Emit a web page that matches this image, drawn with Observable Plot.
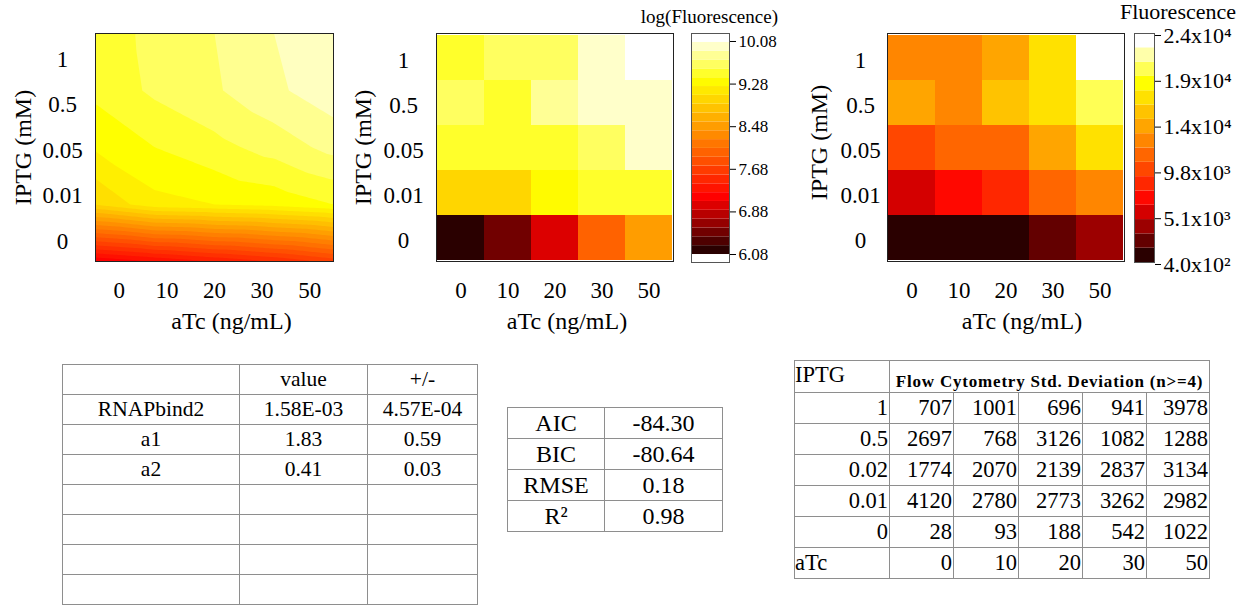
<!DOCTYPE html>
<html><head><meta charset="utf-8">
<script src="https://cdn.jsdelivr.net/npm/d3@7"></script>
<script src="https://cdn.jsdelivr.net/npm/@observablehq/plot@0.6"></script>
<style>
html,body{margin:0;padding:0;background:#fff;}
#root{position:relative;width:1248px;height:605px;overflow:hidden;font-family:"Liberation Serif",serif;color:#000;}
.box{position:absolute;}
.box svg{max-width:none;}
table{position:absolute;border-collapse:collapse;table-layout:fixed;font-family:"Liberation Serif",serif;color:#000;}
td{border:1px solid #8e8e8e;padding:0;white-space:nowrap;line-height:1;}
.ttl{position:absolute;text-align:right;white-space:nowrap;font-family:"Liberation Serif",serif;}
</style></head><body><div id="root"></div>
<script>
// ---------------- data ----------------
const aTcLabels = ["0", "10", "20", "30", "50"];
const iptgLabels = ["1", "0.5", "0.05", "0.01", "0"];

// panel 1: fitted model surface (log fluorescence), rows from IPTG high (top) to low (bottom)
const modelLogFluor = [
  [9.50, 9.65, 9.75, 9.90, 10.00],
  [9.49, 9.63, 9.73, 9.87, 9.99],
  [9.32, 9.45, 9.55, 9.66, 9.80],
  [9.01, 9.25, 9.30, 9.35, 9.45],
  [6.90, 7.05, 7.20, 7.35, 7.55]
];
// panel 2: measured log(Fluorescence)
const logFluor = [
  [9.46, 9.62, 9.62, 9.95, 10.08],
  [9.64, 9.52, 9.78, 9.93, 9.99],
  [9.41, 9.42, 9.52, 9.60, 9.92],
  [8.97, 8.96, 9.30, 9.45, 9.53],
  [6.15, 6.50, 7.00, 7.98, 8.47]
];
// panel 3: measured Fluorescence
const fluor = [
  [13000, 13000, 14400, 17400, 23800],
  [14400, 13000, 15900, 17400, 20300],
  [9900, 11400, 11400, 14400, 17400],
  [5500, 7000, 8500, 11400, 13000],
  [900, 900, 900, 2200, 4000]
];
const logTicks = [6.08, 6.88, 7.68, 8.48, 9.28, 10.08];
const fluorTickLabels = ["4.0x10²", "5.1x10³", "9.8x10³", "1.4x10⁴", "1.9x10⁴", "2.4x10⁴"];

const paramHeader = ["", "value", "+/-"];
const paramNames = ["RNAPbind2", "a1", "a2"];
const paramValues = ["1.58E-03", "1.83", "0.41"];
const paramErrors = ["4.57E-04", "0.59", "0.03"];
const statNames = ["AIC", "BIC", "RMSE", "R²"];
const statValues = ["-84.30", "-80.64", "0.18", "0.98"];
const sdTitle = "Flow Cytometry Std. Deviation (n>=4)";
const sdIptg = ["1", "0.5", "0.02", "0.01", "0"];
const sdATc = ["0", "10", "20", "30", "50"];
const sdValues = [
  [707, 1001, 696, 941, 3978],
  [2697, 768, 3126, 1082, 1288],
  [1774, 2070, 2139, 2837, 3134],
  [4120, 2780, 2773, 3262, 2982],
  [28, 93, 188, 542, 1022]
];

// ---------------- styling helpers ----------------
const root = document.getElementById("root");
function place(node, left, top) {
  const d = document.createElement("div");
  d.className = "box"; d.style.left = left + "px"; d.style.top = top + "px";
  d.appendChild(node); root.appendChild(d); return d;
}
const baseStyle = {fontFamily: "Liberation Serif", fontSize: "23px", background: "none", color: "#000", overflow: "visible"};
const hot = d3.scaleLinear().domain([0, 0.25, 0.6, 0.8, 1])
  .range(["#2a0000", "#ff0000", "#ffa500", "#ffff00", "#ffffff"]).clamp(true);

function axisTitles(dxX, dxY, dyY) {
  return [
    Plot.text(["aTc (ng/mL)"], {text: d => d, frameAnchor: "bottom", textAnchor: "middle", lineAnchor: "middle", dy: 60, dx: dxX, fontSize: 24}),
    Plot.text(["IPTG (mM)"], {text: d => d, frameAnchor: "left", textAnchor: "middle", lineAnchor: "middle", dx: dxY, dy: dyY, rotate: -90, fontSize: 24})
  ];
}
const nC = aTcLabels.length, nR = iptgLabels.length;

// ---------------- panel 1: contour ----------------
const samples = modelLogFluor.flatMap((row, i) => row.map((v, j) => ({
  x: j / (row.length - 1), y: 1 - i / (modelLogFluor.length - 1), v
})));
const xTicks = aTcLabels.map((_, k) => (k + 0.5) / nC);
const yTicks = iptgLabels.map((_, k) => 1 - (k + 0.5) / nR);
const p1 = Plot.plot({
  width: 350, height: 340, marginLeft: 95, marginRight: 17, marginTop: 33, marginBottom: 79,
  style: baseStyle,
  x: {domain: [0, 1]}, y: {domain: [0, 1]},
  color: {type: "linear", domain: [6.9, 9.3, 10.0], range: ["#ff0000", "#ffff00", "#ffffe0"], clamp: true},
  marks: [
    Plot.contour(samples, {x: "x", y: "y", fill: "v", x1: 0, y1: 0, x2: 1, y2: 1,
      interpolate: "barycentric", thresholds: d3.range(6.75, 10.05, 0.15), stroke: "none"}),
    Plot.frame({stroke: "#222"}),
    Plot.axisX({ticks: xTicks, tickFormat: d => aTcLabels[Math.round(d * nC - 0.5)], tickSize: 0, tickPadding: 20, fontSize: 23, label: null}),
    Plot.axisY({ticks: yTicks, tickFormat: d => iptgLabels[Math.round((1 - d) * nR - 0.5)], tickSize: 0, tickPadding: 33, textAnchor: "middle", dy: 3, fontSize: 23, label: null}),
    ...axisTitles(17, -72, 0)
  ]
});
place(p1, 0, 0);

// ---------------- panel 2: log heatmap ----------------
const thr2 = d3.range(26).map(i => 6.08 + i * 0.166);
const color2 = {type: "threshold", domain: thr2, range: ["#ffffff", ...d3.range(25).map(i => hot(i / 24)), "#ffffff"]};
const cells2 = logFluor.flatMap((row, i) => row.map((v, j) => ({aTc: aTcLabels[j], iptg: iptgLabels[i], v})));
const p2 = Plot.plot({
  width: 345, height: 340, marginLeft: 96, marginRight: 12, marginTop: 33, marginBottom: 79,
  style: baseStyle,
  x: {type: "band", domain: aTcLabels, padding: 0}, y: {type: "band", domain: iptgLabels, padding: 0},
  color: color2,
  marks: [
    Plot.cell(cells2, {x: "aTc", y: "iptg", fill: "v", inset: 0}),
    Plot.frame({stroke: "#222"}),
    Plot.axisX({tickSize: 0, tickPadding: 20, fontSize: 23, label: null}),
    Plot.axisY({tickSize: 0, tickPadding: 33, textAnchor: "middle", dy: 3, fontSize: 23, label: null}),
    ...axisTitles(12, -73, 0)
  ]
});
place(p2, 340, 0);

const leg2Bands = [{lo: 5.93, hi: thr2[0]}, ...d3.range(25).map(i => ({lo: thr2[i], hi: thr2[i + 1]}))]
  .map(b => ({...b, mid: (b.lo + b.hi) / 2}));
const l2 = Plot.plot({
  width: 110, height: 290, marginLeft: 6, marginRight: 66, marginTop: 33, marginBottom: 28,
  style: baseStyle,
  x: {domain: [0, 1], axis: null}, y: {domain: [5.93, thr2[25]]},
  color: color2,
  marks: [
    Plot.rect(leg2Bands, {x1: 0, x2: 1, y1: "lo", y2: "hi", fill: "mid"}),
    Plot.frame({stroke: "#555"}),
    Plot.axisY({anchor: "right", ticks: logTicks, tickFormat: d3.format(".2f"), tickSize: 6, tickPadding: 3, fontSize: 17, label: null})
  ]
});
place(l2, 685, 0);

// ---------------- panel 3: linear heatmap ----------------
const thr3 = d3.range(17).map(i => 400 + i * 1475);
const color3 = {type: "threshold", domain: thr3, range: [hot(0), ...d3.range(16).map(i => hot(i / 15)), "#ffffff"]};
const cells3 = fluor.flatMap((row, i) => row.map((v, j) => ({aTc: aTcLabels[j], iptg: iptgLabels[i], v})));
const p3 = Plot.plot({
  width: 350, height: 340, marginLeft: 107, marginRight: 6, marginTop: 33, marginBottom: 79,
  style: baseStyle,
  x: {type: "band", domain: aTcLabels, padding: 0}, y: {type: "band", domain: iptgLabels, padding: 0},
  color: color3,
  marks: [
    Plot.cell(cells3, {x: "aTc", y: "iptg", fill: "v", inset: 0}),
    Plot.frame({stroke: "#222"}),
    Plot.axisX({tickSize: 0, tickPadding: 20, fontSize: 23, label: null}),
    Plot.axisY({tickSize: 0, tickPadding: 27, textAnchor: "middle", dy: 3, fontSize: 23, label: null}),
    ...axisTitles(16, -68, -5)
  ]
});
place(p3, 780, 0);

const leg3Bands = d3.range(16).map(i => ({lo: thr3[i], hi: thr3[i + 1], mid: (thr3[i] + thr3[i + 1]) / 2}));
const lo3 = thr3[0], hi3 = thr3[16];
const leg3Ticks = fluorTickLabels.map((_, k) => lo3 + k * (hi3 - lo3) / (fluorTickLabels.length - 1));
const l3 = Plot.plot({
  width: 123, height: 290, marginLeft: 9, marginRight: 94, marginTop: 33, marginBottom: 28,
  style: baseStyle,
  x: {domain: [0, 1], axis: null}, y: {domain: [lo3, hi3]},
  color: color3,
  marks: [
    Plot.rect(leg3Bands, {x1: 0, x2: 1, y1: "lo", y2: "hi", fill: "mid"}),
    Plot.frame({stroke: "#555"}),
    Plot.axisY({anchor: "right", ticks: leg3Ticks,
      tickFormat: d => fluorTickLabels[Math.round((d - lo3) / (hi3 - lo3) * (fluorTickLabels.length - 1))],
      tickSize: 6, tickPadding: 3, dy: 2, fontSize: 22, label: null})
  ]
});
place(l3, 1125, 0);

// legend titles
function title(text, right, centerY, size) {
  const d = document.createElement("div");
  d.className = "ttl"; d.textContent = text;
  d.style.left = (right - 300) + "px"; d.style.width = "300px";
  d.style.fontSize = size + "px"; d.style.lineHeight = (size * 1.2) + "px";
  d.style.top = (centerY - size * 0.62) + "px";
  root.appendChild(d);
}
title("log(Fluorescence)", 778, 18, 19);
title("Fluorescence", 1236, 13, 22);

// ---------------- tables ----------------
function makeTable(left, top, widths, rowsHtml, fontSize) {
  const t = document.createElement("table");
  t.style.left = left + "px"; t.style.top = top + "px";
  t.style.width = d3.sum(widths) + "px"; t.style.fontSize = fontSize + "px";
  t.innerHTML = "<colgroup>" + widths.map(w => `<col style="width:${w}px">`).join("") + "</colgroup>" + rowsHtml;
  root.appendChild(t);
}
// left parameter table
{
  const h = 30;
  let html = `<tr style="height:${h}px">` + paramHeader.map(c => `<td style="text-align:center">${c}</td>`).join("") + "</tr>";
  paramNames.forEach((n, i) => {
    html += `<tr style="height:${h}px">` + [n, paramValues[i], paramErrors[i]].map(c => `<td style="text-align:center">${c}</td>`).join("") + "</tr>";
  });
  for (let k = 0; k < 4; k++) html += `<tr style="height:${h}px"><td></td><td></td><td></td></tr>`;
  makeTable(62, 364, [177, 128, 110], html, 21.5);
}
// middle stats table
{
  const h = 31;
  let html = "";
  statNames.forEach((n, i) => {
    html += `<tr style="height:${h}px"><td style="text-align:center">${n}</td><td style="text-align:center">${statValues[i]}</td></tr>`;
  });
  makeTable(507, 407, [97, 118], html, 24);
}
// right std-dev table
{
  const h = 31;
  let html = `<tr style="height:${h + 1}px"><td style="text-align:left;vertical-align:top;padding-top:3px">IPTG</td>` +
    `<td colspan="5" style="text-align:center;vertical-align:bottom;padding-bottom:2px;font-weight:bold;font-size:17px;letter-spacing:0.8px">${sdTitle.replace(">", "&gt;")}</td></tr>`;
  sdIptg.forEach((lab, i) => {
    html += `<tr style="height:${h}px"><td style="text-align:right;padding-right:1px">${lab}</td>` +
      sdValues[i].map(v => `<td style="text-align:right;padding-right:1px">${v}</td>`).join("") + "</tr>";
  });
  html += `<tr style="height:${h}px"><td style="text-align:left">aTc</td>` +
    sdATc.map(v => `<td style="text-align:right;padding-right:1px">${v}</td>`).join("") + "</tr>";
  makeTable(794, 360, [95, 64, 65, 64, 64, 63], html, 22.5);
}
</script></body></html>
